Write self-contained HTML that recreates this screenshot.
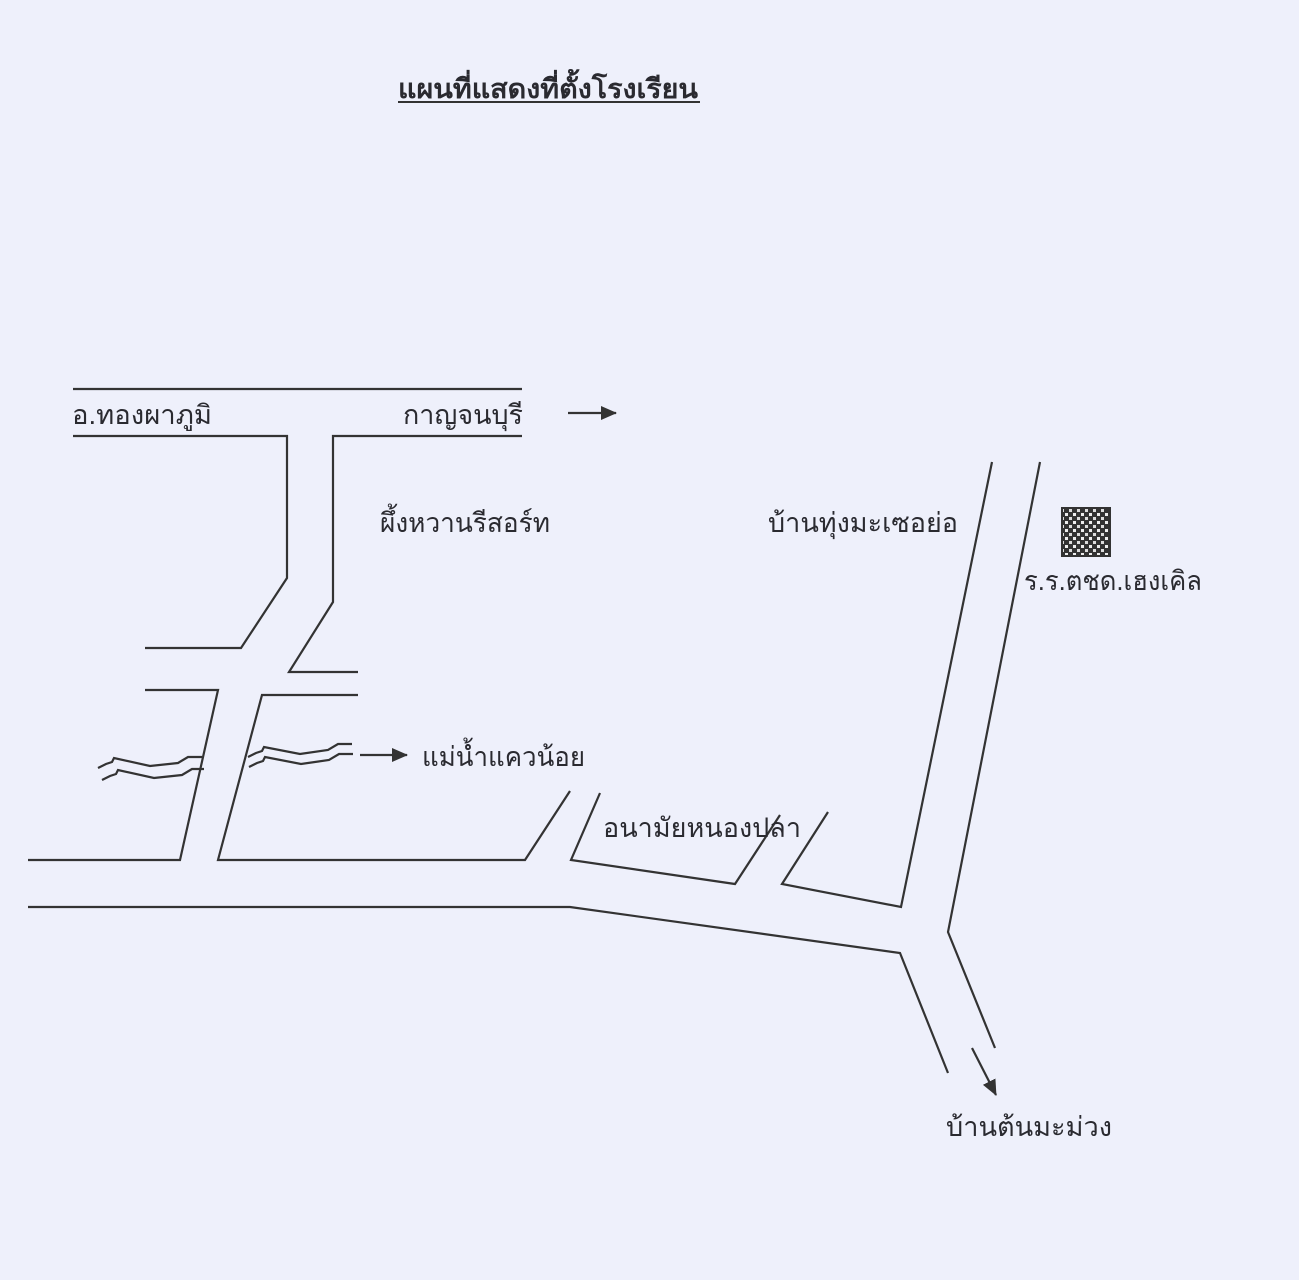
<!DOCTYPE html>
<html><head><meta charset="utf-8"><style>
html,body{margin:0;padding:0;background:#eef0fb;}
svg{display:block}
text{font-family:"Liberation Sans","DejaVu Sans",sans-serif;fill:#2a2a30;font-size:27px}
</style></head><body>
<svg width="1299" height="1280" viewBox="0 0 1299 1280">
<defs>
<pattern id="ck" width="8" height="8" patternUnits="userSpaceOnUse">
<rect width="8" height="8" fill="#333"/>
<rect x="1" y="1" width="3" height="3" fill="#eee"/>
<rect x="5" y="5" width="3" height="3" fill="#ddd"/>
</pattern>
<marker id="ah" markerWidth="16" markerHeight="14" refX="15" refY="7" orient="auto" markerUnits="userSpaceOnUse">
<path d="M0,0 L16,7 L0,14 z" fill="#333"/>
</marker>
</defs>
<text x="398" y="98" font-weight="bold" font-size="28" textLength="300" lengthAdjust="spacingAndGlyphs">แผนที่แสดงที่ตั้งโรงเรียน</text>
<line x1="398" y1="102" x2="700" y2="102" stroke="#333" stroke-width="2"/>
<g stroke="#333" stroke-width="2.2" fill="none">
<line x1="73" y1="389" x2="522" y2="389"/>
<polyline points="73,436 287,436 287,578 241,648 145,648"/>
<polyline points="522,436 333,436 333,602 289,672 358,672"/>
<polyline points="145,690 218,690 180,860 28,860"/>
<polyline points="358,695 262,695 218,860 525,860 570,791"/>
<polyline points="28,907 570,907 900,953 948,1073"/>
<polyline points="600,793 571,860 735,884 780,815"/>
<polyline points="828,812 782,884 901,907 992,462"/>
<polyline points="1040,462 948,932 995,1048"/>
<path d="M98,768 l8,-4 l6,-2 l2,-4 l36,8 l28,-3 l10,-6 l14,0"/>
<path d="M102,780 l8,-4 l6,-2 l2,-4 l36,8 l28,-3 l10,-6 l12,0"/>
<path d="M248,757 l8,-4 l6,-2 l2,-4 l36,7 l28,-4 l10,-6 l14,0"/>
<path d="M249,767 l8,-4 l6,-2 l2,-4 l36,7 l28,-4 l10,-6 l14,0"/>
<line x1="568" y1="413" x2="616" y2="413" marker-end="url(#ah)"/>
<line x1="360" y1="755" x2="407" y2="755" marker-end="url(#ah)"/>
<line x1="972" y1="1048" x2="996" y2="1095" marker-end="url(#ah)"/>
</g>
<rect x="1062" y="508" width="48" height="48" fill="url(#ck)" stroke="#333" stroke-width="2"/>
<text x="72" y="424" textLength="140" lengthAdjust="spacingAndGlyphs">อ.ทองผาภูมิ</text>
<text x="403" y="424" textLength="120" lengthAdjust="spacingAndGlyphs">กาญจนบุรี</text>
<text x="380" y="532" textLength="170" lengthAdjust="spacingAndGlyphs">ผึ้งหวานรีสอร์ท</text>
<text x="768" y="532" textLength="190" lengthAdjust="spacingAndGlyphs">บ้านทุ่งมะเซอย่อ</text>
<text x="1024" y="590" textLength="178" lengthAdjust="spacingAndGlyphs">ร.ร.ตชด.เฮงเคิล</text>
<text x="422" y="766" textLength="163" lengthAdjust="spacingAndGlyphs">แม่น้ำแควน้อย</text>
<text x="603" y="837" textLength="198" lengthAdjust="spacingAndGlyphs">อนามัยหนองปลา</text>
<text x="946" y="1136" textLength="166" lengthAdjust="spacingAndGlyphs">บ้านต้นมะม่วง</text>
</svg>
</body></html>
